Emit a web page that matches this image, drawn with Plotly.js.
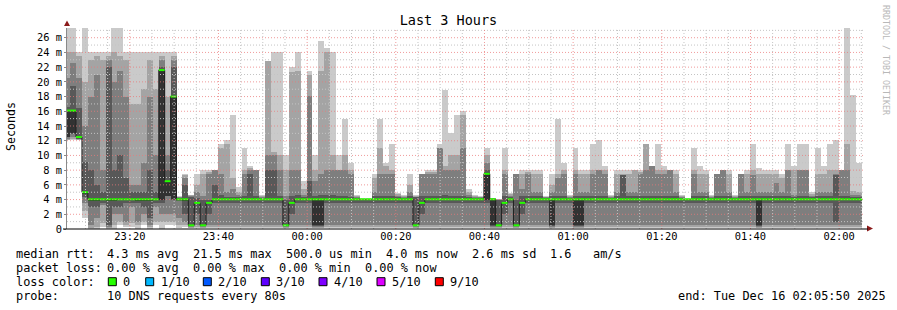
<!DOCTYPE html>
<html><head><meta charset="utf-8">
<script src="https://cdn.plot.ly/plotly-3.0.1.min.js"></script>
<style>html,body{margin:0;padding:0;background:#fff}#chart{width:897px;height:310px}</style>
</head><body><div id="chart"></div>
<script>
// ---- data: 10 DNS probes every 80 s, sorted rtt ranks (ms); rtt6 = median ----
const rangeStart = '2025-12-15 23:05:50';
const rangeEnd   = '2025-12-16 02:05:50';
const firstSampleStart = '2025-12-15 23:05:12';
const stepSeconds = 80;

const rtt1 = [12.1,12.1,12.1,1.5,0,0,0.3,0,0,0.5,
0.3,0.3,0,0.5,0,0.5,0,0.5,0.5,0.2,
0.3,0.1,0.1,0.1,0.1,0.1,0.1,0.1,0.1,0.1,
0.1,0.1,0.1,0.1,0.1,0.1,0.1,0.1,0.1,0.1,
0.1,0.1,0.1,0.1,0.1,0.1,0.1,0.1,0.1,0.1,
0.1,0.1,0.1,0.1,0.1,0.1,0.1,0.1,0.1,0.1,
0.1,0.1,0.1,0.1,0.1,0.1,0.1,0.1,0.1,0.1,
0.1,0.1,0.1,0.1,0.1,0.1,0.1,0.1,0.1,0.1,
0.1,0.1,0.1,0.1,0.1,0.1,0.1,0.1,0.1,0.1,
0.1,0.1,0.1,0.1,0.1,0.1,0.1,0.1,0.1,0.1,
0.1,0.1,0.1,0.1,0.1,0.1,0.1,0.1,0.1,0.1,
0.1,0.1,0.1,0.1,0.1,0.1,0.1,0.1,0.1,0.1,
0.1,0.1,0.1,0.1,0.1,0.1,0.1,0.1,0.1,0.1,
0.1,0.1,0.1,0.1,0.1];
const rtt2 = [12.1,12.2,12.1,2.5,0.2,0.3,0.8,0.2,0.5,1.0,
0.6,0.8,0.5,1.0,0.3,1.0,1.0,1.0,1.0,0.5,
0.5,0.2,0.3,0.2,0.3,0.3,0.3,0.3,0.3,0.3,
0.3,0.3,0.3,0.3,0.3,0.3,0.3,0.2,0.3,0.3,
0.3,0.3,0.2,0.2,0.3,0.3,0.3,0.3,0.3,0.3,
0.3,0.3,0.3,0.3,0.3,0.3,0.3,0.3,0.3,0.2,
0.3,0.3,0.3,0.3,0.3,0.3,0.3,0.3,0.3,0.3,
0.3,0.3,0.2,0.2,0.3,0.3,0.2,0.3,0.3,0.3,
0.3,0.3,0.2,0.3,0.3,0.3,0.2,0.2,0.3,0.3,
0.3,0.3,0.3,0.3,0.3,0.3,0.3,0.3,0.3,0.3,
0.3,0.3,0.3,0.3,0.3,0.3,0.3,0.3,0.3,0.3,
0.3,0.3,0.3,0.3,0.3,0.3,0.3,0.2,0.3,0.3,
0.3,0.3,0.3,0.3,0.3,0.3,0.3,0.3,0.3,0.3,
0.3,0.3,0.3,0.3,0.3];
const rtt3 = [12.3,12.5,12.2,3.5,0.5,1.5,3.2,0.3,2.0,2.0,
1.0,3.0,1.0,2.0,0.5,3.0,2.0,2.0,2.0,1.5,
1.0,0.3,0.55,0.3,0.55,0.55,0.55,0.55,0.55,0.55,
0.55,0.55,0.55,0.55,0.55,0.55,0.55,0.3,0.55,0.55,
0.55,0.55,0.3,0.3,0.55,0.55,0.55,0.55,0.55,0.55,
0.55,0.55,0.55,0.55,0.55,0.55,0.55,0.55,0.55,0.3,
0.55,0.55,0.55,0.55,0.55,0.55,0.55,0.55,0.55,0.55,
0.55,0.55,0.3,0.3,0.55,0.55,0.3,0.55,0.55,0.55,
0.55,0.55,0.3,0.55,0.55,0.55,0.3,0.3,0.55,0.55,
0.55,0.55,0.55,0.55,0.55,0.55,0.55,0.55,0.55,0.55,
0.55,0.55,0.55,0.55,0.55,0.55,0.55,0.55,0.55,0.55,
0.55,0.55,0.55,0.55,0.55,0.55,0.55,0.3,0.55,0.55,
0.55,0.55,0.55,0.55,0.55,0.55,0.55,0.55,0.55,0.55,
0.55,0.55,0.55,0.55,0.55];
const rtt4 = [12.5,12.9,12.3,4.3,3.0,3.0,3.5,0.5,3.0,3.0,
3.5,3.5,3.5,3.0,1.5,3.5,3.5,4.5,4.0,3.8,
2.0,0.4,2.0,0.4,2.0,3.6,3.6,3.6,3.6,3.6,
3.6,3.6,3.6,3.6,3.6,3.6,3.6,0.4,2.0,3.6,
3.6,3.6,0.4,0.4,3.6,3.6,3.6,3.6,3.6,3.6,
3.6,3.6,3.6,3.6,3.6,3.6,3.6,3.6,3.6,0.4,
2.0,3.6,3.6,3.6,3.6,3.6,3.6,3.6,3.6,3.6,
3.6,3.6,0.4,0.4,2.0,3.6,0.4,2.0,3.6,3.6,
3.6,3.6,0.4,3.6,3.6,3.6,0.4,0.4,3.6,3.6,
3.6,3.6,3.6,3.6,3.6,3.6,3.6,3.6,3.6,3.6,
3.6,3.6,3.6,3.6,3.6,3.6,3.6,3.6,3.6,3.6,
3.6,3.6,3.6,3.6,3.6,3.6,3.6,0.4,3.6,3.6,
3.6,3.6,3.6,3.6,3.6,3.6,3.6,3.6,3.6,3.6,
1.0,3.6,3.6,3.6,3.6];
const rtt5 = [12.5,13.0,12.4,4.7,3.8,3.8,3.9,3.8,3.8,3.9,
3.9,3.9,3.8,3.8,3.8,3.9,4.0,4.5,4.1,4.0,
3.8,0.45,3.5,0.45,3.5,3.95,3.95,3.95,3.95,3.95,
3.95,3.95,3.95,3.95,3.95,3.95,3.95,0.45,3.5,3.95,
3.95,3.95,0.5,0.5,3.95,3.95,3.95,3.95,3.95,3.95,
3.95,3.95,3.95,3.95,3.95,3.95,3.95,3.95,3.95,0.45,
3.5,3.95,3.95,3.95,3.95,3.95,3.95,3.95,3.95,3.95,
3.95,4.0,0.5,0.45,3.5,3.95,0.45,3.5,3.95,3.95,
3.95,3.95,0.5,3.95,3.95,3.95,0.5,0.5,3.95,3.95,
3.95,3.95,3.95,3.95,3.95,3.95,3.95,3.95,3.95,3.95,
3.95,3.95,3.95,3.95,3.95,3.95,3.95,3.95,3.95,3.95,
3.95,3.95,3.95,3.95,3.95,3.95,3.95,0.5,3.95,3.95,
3.95,3.95,3.95,3.95,3.95,3.95,3.95,3.95,3.95,3.95,
3.95,3.95,3.95,3.95,3.95];
const rtt6 = [16.1,16.1,12.5,5.0,4.04,4.04,4.04,4.04,4.04,4.04,
4.04,4.04,4.04,4.04,4.04,4.04,21.6,6.5,18.0,4.04,
4.04,0.5,3.55,0.5,3.55,4.04,4.04,4.04,4.04,4.04,
4.04,4.04,4.04,4.04,4.04,4.04,4.04,0.5,3.55,4.04,
4.04,4.04,4.04,4.04,4.04,4.04,4.04,4.04,4.04,4.04,
4.04,4.04,4.04,4.04,4.04,4.04,4.04,4.04,4.04,0.5,
3.55,4.04,4.04,4.04,4.04,4.04,4.04,4.04,4.04,4.04,
4.04,7.5,4.04,0.5,3.55,4.04,0.5,3.55,4.04,4.04,
4.04,4.04,4.04,4.04,4.04,4.04,4.04,4.04,4.04,4.04,
4.04,4.04,4.04,4.04,4.04,4.04,4.04,4.04,4.04,4.04,
4.04,4.04,4.04,4.04,4.04,4.04,4.04,4.04,4.04,4.04,
4.04,4.04,4.04,4.04,4.04,4.04,4.04,4.04,4.04,4.04,
4.04,4.04,4.04,4.04,4.04,4.04,4.04,4.04,4.04,4.04,
4.04,4.04,4.04,4.04,4.04];
const rtt7 = [16.6,19.5,16.5,9.1,8.0,6.0,5.0,22.0,8.0,10.0,
7.0,5.0,5.0,5.0,8.0,5.0,22.0,8.0,22.0,4.2,
6.0,4.3,4.2,4.0,4.0,6.0,4.6,4.3,4.3,4.3,
4.5,7.5,4.5,4.2,8.0,8.0,4.5,4.0,4.5,4.6,
4.3,6.5,4.5,4.6,4.6,4.6,4.5,4.5,4.3,4.2,
4.05,4.05,4.5,4.5,4.5,4.5,4.3,4.2,4.5,4.3,
4.5,4.5,4.5,4.5,4.6,4.5,4.5,4.5,4.3,4.2,
4.2,8.0,4.1,3.9,4.5,4.3,4.0,4.5,4.5,4.5,
4.5,4.2,4.5,4.5,4.5,4.2,4.5,4.5,4.5,4.5,
4.5,4.5,4.2,4.5,7.4,4.5,4.5,4.5,4.5,4.5,
4.5,4.5,4.5,4.5,4.2,4.05,4.5,4.5,4.5,4.2,
4.5,4.5,4.5,4.2,4.5,4.5,4.5,4.5,4.5,4.5,
4.5,4.5,4.5,4.3,4.5,4.5,4.3,4.5,4.5,4.5,
7.3,4.5,4.5,4.3,4.3];
const rtt8 = [20.5,22.5,20.5,14.0,18.0,21.0,8.0,23.0,20.0,21.5,
18.0,6.0,6.0,9.0,18.0,10.0,23.0,10.0,23.0,4.3,
7.0,4.5,5.0,4.5,7.5,8.0,7.5,5.0,5.5,4.6,
7.5,8.0,8.0,4.4,10.0,10.0,8.0,4.5,8.0,8.0,
4.6,18.1,6.5,7.5,8.0,8.0,8.0,8.0,7.5,4.4,
4.1,4.1,5.0,7.5,7.5,7.5,4.5,4.4,5.0,4.4,
7.5,7.5,7.5,11.0,8.0,8.0,8.0,11.0,4.6,4.4,
4.3,9.0,4.1,4.0,7.5,4.5,7.5,5.5,7.5,5.0,
5.0,4.3,5.0,7.0,7.5,4.4,7.5,5.0,5.0,7.5,
8.0,7.5,4.4,5.0,7.4,5.0,5.0,7.5,8.0,8.6,
7.5,7.5,8.0,5.0,4.4,4.1,7.5,5.0,5.0,4.4,
7.5,8.0,5.0,4.4,7.5,5.0,7.4,5.0,5.0,5.0,
6.3,5.0,8.0,4.6,8.0,8.0,4.5,5.0,5.0,5.0,
7.5,8.0,8.0,4.6,4.6];
const rtt9 = [24.0,24.0,23.5,20.0,23.0,23.5,23.0,23.5,24.0,23.5,
23.0,17.0,17.0,19.0,23.0,19.0,23.5,18.0,23.5,4.4,
7.3,4.6,6.0,7.5,7.8,8.0,11.0,11.5,7.0,5.0,
8.0,8.3,8.0,4.5,22.9,10.5,10.0,8.0,21.4,21.5,
5.5,21.0,8.0,21.5,24.0,10.0,8.0,10.0,8.0,4.5,
4.1,4.1,7.0,11.0,8.6,8.0,4.7,4.5,6.0,4.5,
7.5,7.8,7.8,11.0,8.6,10.0,10.0,15.5,5.0,4.5,
4.4,10.0,4.2,4.04,8.0,4.7,7.5,7.5,7.8,7.5,
7.5,4.4,6.0,7.5,8.0,4.5,8.0,7.5,7.5,8.0,
8.0,8.0,4.5,7.5,7.5,7.5,8.0,7.8,11.5,8.6,
8.0,8.0,8.0,7.5,4.5,4.1,8.0,7.5,7.5,4.5,
7.5,8.0,7.5,4.5,7.5,7.5,8.0,7.5,7.5,7.5,
7.5,7.0,8.0,8.0,8.0,8.0,4.8,7.5,7.5,8.0,
8.0,8.0,11.5,5.1,5.0];
const rtt10 = [27.3,27.3,24.0,27.3,24.0,24.0,24.0,24.0,27.3,27.3,
24.0,24.0,24.0,24.0,24.0,24.0,24.0,24.0,24.0,4.5,
7.5,4.6,7.5,8.0,8.0,8.0,11.5,12.1,15.5,5.7,
11.0,8.6,8.0,4.6,22.9,24.0,24.0,10.0,22.0,24.0,
6.5,21.5,10.0,25.6,24.6,24.0,10.0,15.0,9.0,4.6,
4.1,4.1,7.5,15.0,9.0,11.5,4.9,4.6,7.5,4.6,
7.5,8.0,8.0,11.5,18.9,13.1,15.5,16.0,5.5,4.6,
4.5,11.0,4.2,4.04,11.0,4.9,7.5,8.0,8.0,8.0,
8.0,4.5,7.5,15.0,9.0,4.6,11.0,8.0,8.0,11.5,
12.1,8.6,4.6,8.0,8.0,8.0,8.0,8.0,11.5,8.6,
11.5,8.6,8.0,8.0,4.6,4.1,11.0,8.6,8.0,4.6,
7.5,8.0,8.0,4.6,7.5,8.0,11.5,8.3,8.0,8.0,
8.0,7.5,11.5,8.6,11.5,11.5,5.0,11.0,8.6,11.5,
12.1,8.0,27.3,18.2,9.0];

const yTickVals  = [0,2,4,6,8,10,12,14,16,18,20,22,24,26];
const yTickText  = ['0','2 m','4 m','6 m','8 m','10 m','12 m','14 m','16 m','18 m','20 m','22 m','24 m','26 m'];
const lossLabels = ['0','1/10','2/10','3/10','4/10','5/10','9/10'];
const lossColors = ['#26ff00','#00b8ff','#0059ff','#5e00ff','#7e00ff','#dd00ff','#ff0000'];
const statsMedian = ['median rtt:','4.3 ms avg','21.5 ms max','500.0 us min','4.0 ms now','2.6 ms sd','1.6','am/s'];
const statsLoss   = ['packet loss:','0.00 % avg','0.00 % max','0.00 % min','0.00 % now'];
const probeText = ['probe:','10 DNS requests every 80s','end: Tue Dec 16 02:05:50 2025'];

// ---- helpers ----
const MONO = 'DejaVu Sans Mono';
const L = 67, T = 28, PW = 798, PH = 201;
const px = v => (v - L) / PW;
const py = v => (T + PH - v) / PH;
const toMs = s => Date.parse(s.replace(' ', 'T') + 'Z');
const fmt = ms => new Date(ms).toISOString().slice(0, 19).replace('T', ' ');
const t0 = toMs(firstSampleStart);
const stepMs = stepSeconds * 1000;
const n = rtt6.length;
const centers = rtt6.map((_, i) => fmt(t0 + (i + 0.5) * stepMs));

const bands = [
  [rtt1, rtt10, '#cacaca'],
  [rtt2, rtt9, '#a4a4a4'],
  [rtt3, rtt8, '#7e7e7e'],
  [rtt4, rtt7, '#585858'],
  [rtt5, rtt6, '#323232']
];
const traces = bands.map(([lo, hi, col]) => ({
  type: 'bar', x: centers, base: lo, y: hi.map((h, i) => h - lo[i]),
  width: stepMs * 1.006, marker: {color: col, line: {width: 0}}, hoverinfo: 'skip', showlegend: false
}));

// median line (dark, stepped)
const mx = [], my = [];
for (let i = 0; i < n; i++) { mx.push(fmt(t0 + i * stepMs)); my.push(rtt6[i]); }
mx.push(fmt(t0 + n * stepMs)); my.push(rtt6[n - 1]);
traces.push({type: 'scatter', mode: 'lines', x: mx, y: my, line: {shape: 'hv', color: '#202020', width: 1},
  hoverinfo: 'skip', showlegend: false});
// loss-coloured median marks (0 loss -> green)
const gx = [], gy = [];
for (let i = 0; i < n; i++) {
  gx.push(fmt(t0 + i * stepMs), fmt(t0 + (i + 1) * stepMs), null);
  gy.push(rtt6[i], rtt6[i], null);
}
traces.push({type: 'scatter', mode: 'lines', x: gx, y: gy, line: {color: lossColors[0], width: 2},
  hoverinfo: 'skip', showlegend: false});

// ---- grid (drawn above the smoke, like rrdtool) ----
const shapes = [];
const MGRID = 'rgba(235,120,120,0.75)', GRID = '#c4c4c4', DASH = '1px,2px';
for (let v = 1; v <= 27; v++) {
  shapes.push({type: 'line', xref: 'paper', yref: 'y', x0: 0, x1: 1, y0: v, y1: v, layer: 'above',
    line: {color: v % 2 === 0 ? MGRID : GRID, width: 1, dash: DASH}});
}
const gStart = toMs('2025-12-15 23:10:00'), gEnd = toMs(rangeEnd);
for (let t = gStart; t < gEnd; t += 300000) {
  const major = (new Date(t).getUTCMinutes() % 20) === 0;
  shapes.push({type: 'line', xref: 'x', yref: 'paper', x0: fmt(t), x1: fmt(t), y0: 0, y1: 1, layer: 'above',
    line: {color: major ? MGRID : GRID, width: 1, dash: DASH}});
}
// axis arrows
const tri = (pts) => 'M' + pts.map(p => px(p[0]) + ',' + py(p[1])).join(' L') + ' Z';
shapes.push({type: 'path', xref: 'paper', yref: 'paper', path: tri([[64, 26], [70, 26], [67, 20.5]]),
  fillcolor: '#8b1a1a', line: {width: 0}, layer: 'above'});
shapes.push({type: 'path', xref: 'paper', yref: 'paper', path: tri([[867, 225.5], [867, 231.5], [873, 228.5]]),
  fillcolor: '#8b1a1a', line: {width: 0}, layer: 'above'});
// x axis line extension
shapes.push({type: 'line', xref: 'paper', yref: 'paper', x0: px(63), x1: px(868), y0: py(229), y1: py(229),
  line: {color: '#000', width: 1}, layer: 'above'});

// ---- legend / stats text ----
const annotations = [];
const txt = (s, x, y, extra) => annotations.push(Object.assign({text: s, xref: 'paper', yref: 'paper',
  x: px(x - 2), y: py(y), xanchor: 'left', yanchor: 'middle', showarrow: false,
  font: {family: MONO, size: 11.9, color: '#000'}}, extra || {}));
const medX = [16, 107.3, 193.3, 286, 386, 472.3, 550, 593.3];
statsMedian.forEach((s, i) => txt(s, medX[i], 254.3));
const lossX = [16, 107.3, 193.3, 279.3, 365.3];
statsLoss.forEach((s, i) => txt(s, lossX[i], 268.3));
txt('loss color:', 16, 281.7);
const sqX = [108.3, 145.7, 203.3, 261.3, 319, 377, 435.3];
lossLabels.forEach((s, i) => {
  shapes.push({type: 'rect', xref: 'paper', yref: 'paper', x0: px(sqX[i]), x1: px(sqX[i] + 8),
    y0: py(285.7), y1: py(277.7), fillcolor: lossColors[i], line: {color: '#000', width: 1}});
  txt(s, sqX[i] + 15, 281.7);
});
const probeX = [16, 107.3, 678.3];
probeText.forEach((s, i) => txt(s, probeX[i], 296.3));
annotations.push({text: 'Seconds', xref: 'paper', yref: 'paper', x: px(11), y: py(127), xanchor: 'center',
  yanchor: 'middle', textangle: -90, showarrow: false, font: {family: MONO, size: 11.6, color: '#000'}});
annotations.push({text: 'RRDTOOL / TOBI OETIKER', xref: 'paper', yref: 'paper', x: px(886), y: py(60),
  xanchor: 'center', yanchor: 'middle', textangle: 90, showarrow: false,
  font: {family: MONO, size: 8.3, color: '#b8b8b8'}});

const layout = {
  width: 897, height: 310,
  margin: {l: L, r: 897 - L - PW, t: T, b: 310 - T - PH, pad: 0},
  paper_bgcolor: '#fff', plot_bgcolor: '#fff',
  barmode: 'overlay', bargap: 0, showlegend: false,
  title: {text: 'Last 3 Hours', x: 0.5, xref: 'container', xanchor: 'center', y: 1 - 20 / 310,
    yref: 'container', yanchor: 'middle', font: {family: MONO, size: 13.5, color: '#000'}},
  xaxis: {type: 'date', range: [rangeStart, rangeEnd], tick0: '2025-12-15 23:20:00', dtick: 1200000,
    tickformat: '%H:%M', showgrid: false, zeroline: false, showline: false, ticks: '',
    tickfont: {family: MONO, size: 10.4, color: '#000'}, fixedrange: true},
  yaxis: {range: [0, 27.32], tickmode: 'array', tickvals: yTickVals, ticktext: yTickText,
    showgrid: false, zeroline: false, showline: true, linecolor: '#8a8a8a', linewidth: 1,
    ticks: 'outside', ticklen: 2, tickcolor: '#8a8a8a', layer: 'above traces',
    tickfont: {family: MONO, size: 10.4, color: '#000'}, fixedrange: true},
  shapes: shapes, annotations: annotations
};
Plotly.newPlot('chart', traces, layout, {staticPlot: true, displayModeBar: false});
</script></body></html>
